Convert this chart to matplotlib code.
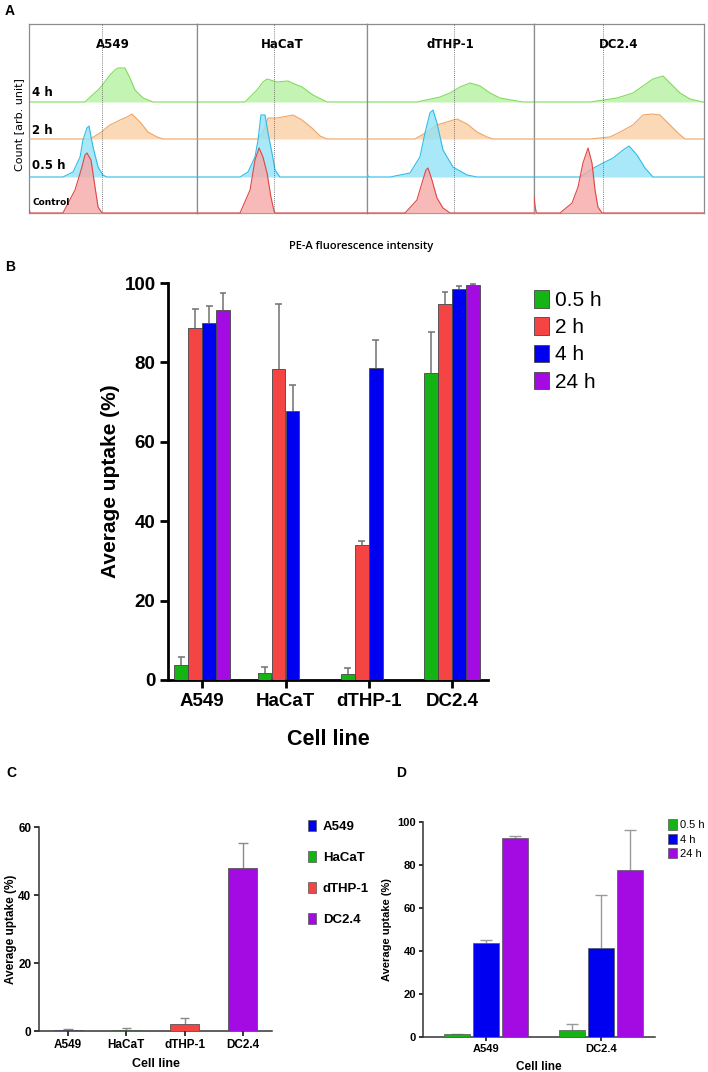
import numpy as np
import matplotlib
matplotlib.use("Agg")
import matplotlib.pyplot as plt
from matplotlib.patches import Patch

plt.rcParams['font.family'] = ['Liberation Sans', 'DejaVu Sans']

W, H = 708, 1072
fig = plt.figure(figsize=(W / 100, H / 100), dpi=100)


def ax_px(l, t, r, b):
    return fig.add_axes([l / W, 1 - b / H, (r - l) / W, (b - t) / H])


# ---------------- data ----------------
cell_lines = ['A549', 'HaCaT', 'dTHP-1', 'DC2.4']
hist_rows = ['Control', '0.5 h', '2 h', '4 h']

# panel A histograms: intensity (0-100 per column) and counts [arb.], rows ctrl/0.5h/2h/4h
a549_x = [[0, 0.8, 20.2, 27.4, 31.5, 33.3, 34.5, 36.9, 39.3, 41.1, 43.5],
          [20.2, 26.2, 30.4, 32.1, 34.5, 35.7, 38.1, 41.1, 44.0, 46.4],
          [36.3, 42.3, 48.2, 54.2, 58.3, 61.3, 66.1, 70.8, 76.2, 79.8],
          [33.3, 42.3, 48.2, 51.2, 53.0, 57.1, 60.1, 63.1, 67.9, 73.8]]
a549_y = [[3, 0, 0, 23, 46, 58, 60, 53, 26, 6, 0],
          [0, 5, 20, 37, 49, 51, 30, 10, 2, 0],
          [0, 6, 14, 19, 22, 25, 17, 7, 2, 0],
          [0, 14, 27, 32, 34, 34, 24, 12, 4, 0]]
hacat_x = [[25.3, 31.2, 34.1, 36.5, 38.8, 41.2, 43.5, 45.3, 45.9],
           [25.3, 30.0, 34.1, 35.9, 37.6, 40.0, 41.8, 44.1, 45.9, 48.8],
           [35.9, 38.8, 41.8, 47.1, 56.5, 61.8, 67.6, 72.4, 76.5],
           [28.2, 35.3, 38.8, 41.2, 47.1, 53.5, 58.8, 61.8, 68.2, 76.5]]
hacat_y = [[0, 23, 53, 65, 56, 40, 16, 2, 0],
           [0, 5, 20, 37, 62, 62, 44, 24, 7, 0],
           [0, 7, 21, 21, 24, 19, 11, 3, 0],
           [0, 12, 20, 23, 20, 21, 17, 15, 7, 0]]
dthp_x = [[22.8, 29.9, 32.9, 35.3, 36.5, 38.9, 41.9, 45.5, 49.7],
          [0, 0.6, 1.2, 13.8, 25.7, 31.7, 34.7, 37.7, 39.5, 41.9, 45.5, 51.5, 59.9, 65.9],
          [28.7, 35.9, 41.9, 49.7, 53.9, 59.9, 65.9, 71.9, 75.4],
          [29.9, 43.7, 49.7, 55.7, 61.7, 67.7, 73.7, 79.6, 93.4]]
dthp_y = [[0, 13, 30, 43, 45, 33, 15, 5, 0],
          [5, 1, 0, 0, 4, 20, 44, 64, 67, 54, 27, 10, 2, 0],
          [0, 7, 14, 18, 20, 15, 7, 2, 0],
          [0, 5, 9, 15, 19, 16, 9, 4, 0]]
dc24_x = [[0, 0.7, 1.4, 15.3, 22.4, 25.9, 28.8, 31.8, 34.1, 35.9, 37.6, 40.0],
          [27.1, 32.9, 40.6, 46.5, 52.4, 55.9, 60.6, 65.3, 70.0],
          [32.9, 44.7, 50.6, 58.2, 64.1, 69.4, 74.1, 80.0, 84.7, 88.8],
          [32.9, 48.8, 58.2, 64.1, 70.0, 75.9, 80.0, 85.9, 91.8, 99.4]]
dc24_y = [[16, 6, 0, 0, 10, 26, 50, 65, 50, 23, 6, 0],
          [0, 7, 14, 19, 27, 31, 22, 9, 0],
          [0, 2, 7, 14, 24, 25, 24, 14, 6, 0],
          [0, 4, 9, 16, 23, 26, 19, 9, 3, 0]]
gates = [43.5, 45.3, 52.1, 40.6]

# panel B: average uptake (%) and SD
times_b = ['0.5 h', '2 h', '4 h', '24 h']
b_05h = [3.8, 1.7, 1.6, 77.3]
b_2h = [88.7, 78.3, 34.1, 94.7]
b_4h = [89.9, 67.8, 78.6, 98.5]
b_24h = [93.2, np.nan, np.nan, 99.5]
b_05h_sd = [2.0, 1.6, 1.3, 10.4]
b_2h_sd = [4.7, 16.4, 0.9, 3.0]
b_4h_sd = [4.3, 6.5, 7.0, 0.7]
b_24h_sd = [4.3, np.nan, np.nan, 0.3]

# panel C
c_vals = [0.3, 0.4, 2.1, 47.8]
c_sd = [0.3, 0.4, 1.8, 7.5]

# panel D
d_lines = ['A549', 'DC2.4']
times_d = ['0.5 h', '4 h', '24 h']
d_05h = [1.3, 3.1]
d_4h = [43.7, 41.4]
d_24h = [92.6, 77.7]
d_05h_sd = [0.3, 3.1]
d_4h_sd = [1.4, 24.6]
d_24h_sd = [0.9, 18.6]

GREEN, RED, BLUE, PURPLE = '#14b414', '#f44444', '#0000f0', '#a30be2'

# ---------------- panel A ----------------
fills = ['#f7a8a8', '#93e3f7', '#fbcfa4', '#b6f2a0']
edges = ['#e04646', '#30bce6', '#f0a464', '#80dc5c']
bases = [0, 36, 74, 111]
col_px = [(29, 197), (197, 367), (367, 534), (534, 704)]
hx = [a549_x, hacat_x, dthp_x, dc24_x]
hy = [a549_y, hacat_y, dthp_y, dc24_y]

for c, (l, r) in enumerate(col_px):
    ax = ax_px(l, 24, r, 213)
    ax.set_xlim(0, 100)
    ax.set_ylim(0, 189)
    for i in [3, 2, 1, 0]:
        x = list(hx[c][i])
        y = list(hy[c][i])
        if x[0] > 0:
            x = [0] + x
            y = [0] + y
        if x[-1] < 100:
            x = x + [100]
            y = y + [0]
        x = np.array(x)
        y = np.array(y) + bases[i]
        ax.fill_between(x, bases[i], y, color=fills[i], alpha=0.8, lw=0, zorder=2 + (3 - i))
        ax.plot(x, y, color=edges[i], lw=0.8, zorder=2 + (3 - i))
    ax.axvline(gates[c], color='#555555', lw=0.6, ls=(0, (1, 1.5)), zorder=10)
    ax.set_xticks([])
    ax.set_yticks([])
    for s in ax.spines.values():
        s.set_color('#8c8c8c')
        s.set_linewidth(0.9)
    ax.text(0.5, 0.889, cell_lines[c], transform=ax.transAxes, ha='center', va='center',
            fontsize=8.5, fontweight='bold', family='DejaVu Sans')
    if c == 0:
        for lab, yy, fs in zip(hist_rows, [0.053, 0.249, 0.434, 0.64], [6.5, 8.5, 8.5, 8.5]):
            ax.text(0.02, yy, lab, transform=ax.transAxes, ha='left', va='center',
                    fontsize=fs, fontweight='bold', family='DejaVu Sans', zorder=12)

fig.text(19 / W, 1 - 125 / H, 'Count [arb. unit]', rotation=90, ha='center', va='center',
         fontsize=8, family='DejaVu Sans')
fig.text(361 / W, 1 - 247 / H, 'PE-A fluorescence intensity', ha='center', va='center',
         fontsize=8, fontweight='semibold', family='Open Sans')

# ---------------- panel B ----------------
axb = ax_px(168, 283, 488, 680)
xb = np.arange(len(cell_lines))
step, bw = 0.168, 0.162
bcols = [GREEN, RED, BLUE, PURPLE]
bvals = [b_05h, b_2h, b_4h, b_24h]
bsds = [b_05h_sd, b_2h_sd, b_4h_sd, b_24h_sd]
for k in range(4):
    xs = xb + (k - 1.5) * step
    v = np.array(bvals[k], dtype=float)
    sd = np.array(bsds[k], dtype=float)
    axb.bar(xs, v, width=bw, color=bcols[k], edgecolor='#454545', lw=0.6, label=times_b[k], zorder=3)
    ok = ~np.isnan(v)
    axb.vlines(xs[ok], v[ok], v[ok] + sd[ok], color='#707070', lw=1.1, zorder=2)
    axb.hlines(v[ok] + sd[ok], xs[ok] - 0.04, xs[ok] + 0.04, color='#707070', lw=1.1, zorder=2)
axb.set_xlim(-0.41, 3.43)
axb.set_ylim(0, 100)
axb.set_yticks([0, 20, 40, 60, 80, 100])
axb.set_xticks(xb)
axb.set_xticklabels(cell_lines)
for s in ['top', 'right']:
    axb.spines[s].set_visible(False)
for s in ['left', 'bottom']:
    axb.spines[s].set_linewidth(2)
axb.tick_params(width=2, length=6, labelsize=13.5, pad=3)
for t in axb.get_xticklabels() + axb.get_yticklabels():
    t.set_fontweight('bold')
axb.set_ylabel('Average uptake (%)', fontsize=15, fontweight='bold', labelpad=3)
axb.set_xlabel('Cell line', fontsize=15.5, fontweight='bold', labelpad=14)
fig.legend(handles=[Patch(facecolor=c, edgecolor='#454545', lw=0.6) for c in bcols], labels=times_b,
           loc='upper left', bbox_to_anchor=(526 / W, 1 - 282 / H), frameon=False, fontsize=15,
           handlelength=0.7, handleheight=0.9, handletextpad=0.3, labelspacing=0.35, borderaxespad=0)

# ---------------- panel C ----------------
axc = ax_px(39, 827, 272, 1031)
xc = np.arange(len(cell_lines))
ccols = [BLUE, GREEN, RED, PURPLE]
axc.bar(xc, c_vals, width=0.5, color=ccols, edgecolor='#555555', lw=0.6, zorder=3)
cv = np.array(c_vals)
cs = np.array(c_sd)
axc.vlines(xc, cv, cv + cs, color='#8a8a8a', lw=1.0, zorder=2)
axc.hlines(cv + cs, xc - 0.08, xc + 0.08, color='#8a8a8a', lw=1.0, zorder=2)
axc.set_xlim(-0.5, 3.5)
axc.set_ylim(0, 60)
axc.set_yticks([0, 20, 40, 60])
axc.set_xticks(xc)
axc.set_xticklabels(cell_lines)
for s in ['top', 'right']:
    axc.spines[s].set_visible(False)
for s in ['left', 'bottom']:
    axc.spines[s].set_linewidth(1.1)
    axc.spines[s].set_color('#333333')
axc.tick_params(width=1.1, length=3.5, labelsize=8.5, pad=2)
for t in axc.get_xticklabels() + axc.get_yticklabels():
    t.set_fontweight('bold')
axc.set_ylabel('Average uptake (%)', fontsize=8.5, fontweight='bold', labelpad=1)
axc.set_xlabel('Cell line', fontsize=9, fontweight='bold', labelpad=5)
fig.legend(handles=[Patch(facecolor=c, edgecolor='#555555', lw=0.5) for c in ccols], labels=cell_lines,
           loc='upper left', bbox_to_anchor=(303 / W, 1 - 815 / H), frameon=False,
           prop={'weight': 'bold', 'size': 9.5},
           handlelength=0.6, handleheight=0.9, handletextpad=0.5, labelspacing=1.35, borderaxespad=0)

# ---------------- panel D ----------------
axd = ax_px(423, 822, 655, 1037)
xd = np.arange(len(d_lines))
dcols = [GREEN, BLUE, PURPLE]
dvals = [d_05h, d_4h, d_24h]
dsds = [d_05h_sd, d_4h_sd, d_24h_sd]
for k in range(3):
    xs = xd + (k - 1) * 0.252
    v = np.array(dvals[k])
    sd = np.array(dsds[k])
    axd.bar(xs, v, width=0.226, color=dcols[k], edgecolor='#555555', lw=0.5, zorder=3, label=times_d[k])
    axd.vlines(xs, v, v + sd, color='#9a9a9a', lw=1.0, zorder=2)
    axd.hlines(v + sd, xs - 0.05, xs + 0.05, color='#9a9a9a', lw=1.0, zorder=2)
axd.set_xlim(-0.55, 1.47)
axd.set_ylim(0, 100)
axd.set_yticks([0, 20, 40, 60, 80, 100])
axd.set_xticks(xd)
axd.set_xticklabels(d_lines)
for s in ['top', 'right']:
    axd.spines[s].set_visible(False)
for s in ['left', 'bottom']:
    axd.spines[s].set_linewidth(1.1)
    axd.spines[s].set_color('#333333')
axd.tick_params(width=1.1, length=3, labelsize=8, pad=2)
for t in axd.get_xticklabels() + axd.get_yticklabels():
    t.set_fontweight('bold')
axd.set_ylabel('Average uptake (%)', fontsize=8, fontweight='bold', labelpad=4)
axd.set_xlabel('Cell line', fontsize=8.5, fontweight='bold', labelpad=5)
fig.legend(handles=[Patch(facecolor=c, edgecolor='#555555', lw=0.5) for c in dcols], labels=times_d,
           loc='upper left', bbox_to_anchor=(664 / W, 1 - 815 / H), frameon=False, fontsize=8,
           handlelength=0.75, handleheight=1.05, handletextpad=0.25, labelspacing=0.3, borderaxespad=0)

# panel letters
for lab, x, y in [('A', 10, 11), ('B', 10, 267), ('C', 11, 773), ('D', 401, 773)]:
    fig.text(x / W, 1 - y / H, lab, ha='center', va='center', fontsize=10, fontweight='bold')

fig.savefig('out.png', dpi=100)
